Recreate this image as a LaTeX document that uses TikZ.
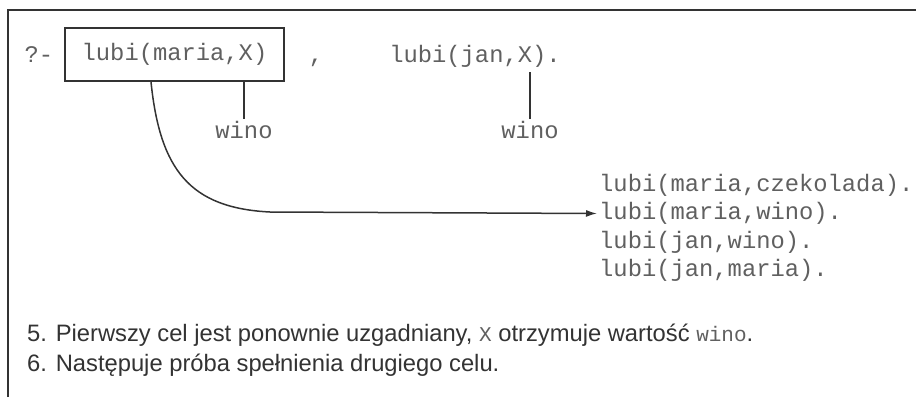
\documentclass[tikz,border=0pt]{standalone}
\usepackage{fontspec}
\setmainfont{Liberation Sans}
\newfontfamily\codefont{Liberation Mono}
\usetikzlibrary{arrows.meta}
\definecolor{ink}{HTML}{333333}
\definecolor{codeink}{HTML}{606060}
\newcommand{\inlinecode}[1]{{\codefont\fontsize{21}{24}\selectfont\color{codeink}#1}}
\tikzset{
  code/.style={font=\codefont\fontsize{23.8}{28}\selectfont, text=codeink, inner sep=2pt},
  goalbox/.style={code, draw=ink, line width=1.8pt, minimum width=219pt, minimum height=53pt},
  link/.style={draw=ink, line width=1.5pt},
  note/.style={font=\fontsize{23.75}{28}\selectfont, text=ink, anchor=west, inner sep=0pt},
  frame/.style={draw=ink, line width=2.5pt}
}
\begin{document}
\begin{tikzpicture}[x=1pt,y=-1pt]
  \useasboundingbox[fill=white] (0,0) rectangle (916,397);
  % frame: top and left rules
  \draw[frame] (8,397) -- (8,10) -- (916,10);

  % the query
  \node[code, anchor=base] (prompt) at (39,62) {?-};
  \node[goalbox] (goal1) at (174.5,54.5) {lubi(maria,X)};
  \node[code, anchor=base] (comma) at (316,62) {,};
  \node[code, anchor=base] (goal2) at (475,62) {lubi(jan,X).};

  % bindings
  \node[code] (wino1) at (244,130) {wino};
  \node[code] (wino2) at (530,130) {wino};
  \draw[link] (goal1.south -| wino1) -- (wino1.north);
  \draw[link] (goal2.south -| wino2) ++(0,3) -- (wino2.north);

  % database
  \node[code, anchor=west] (fact1) at (597,185) {lubi(maria,czekolada).};
  \node[code, anchor=west] (fact2) at (597,213.5) {lubi(maria,wino).};
  \node[code, anchor=west] (fact3) at (597,242) {lubi(jan,wino).};
  \node[code, anchor=west] (fact4) at (597,270.5) {lubi(jan,maria).};

  % resatisfaction pointer
  \coordinate (start) at (goal1.south -| 151,0);
  \draw[link, -{Latex[length=11pt,width=7pt]}]
    (start) .. controls (160,170) and (190,208) .. (270,212) -- (fact2.west);

  % explanations
  \node[note] (step5) at (27,335) {5. Pierwszy cel jest ponownie uzgadniany, \inlinecode{X} otrzymuje wartość \inlinecode{wino}.};
  \node[note] (step6) at (27,365) {6. Następuje próba spełnienia drugiego celu.};
\end{tikzpicture}
\end{document}
